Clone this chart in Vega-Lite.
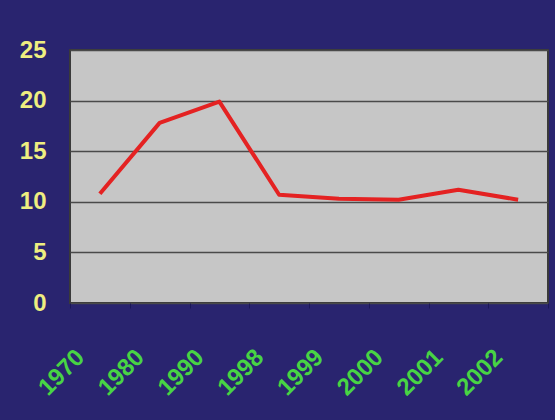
{
  "$schema": "https://vega.github.io/schema/vega-lite/v6.json",
  "autosize": "none",
  "width": 478,
  "height": 253,
  "padding": {"left": 70, "top": 50, "right": 7, "bottom": 117},
  "background": "#29246f",
  "config": {
    "view": {"fill": "#c6c6c6", "stroke": "#3a3a3a", "strokeWidth": 2},
    "font": "Liberation Sans"
  },
  "data": {
    "values": [
      {"year": "1970", "value": 10.8},
      {"year": "1980", "value": 17.8},
      {"year": "1990", "value": 19.9},
      {"year": "1998", "value": 10.7},
      {"year": "1999", "value": 10.3},
      {"year": "2000", "value": 10.2},
      {"year": "2001", "value": 11.2},
      {"year": "2002", "value": 10.2}
    ]
  },
  "mark": {"type": "line", "color": "#e42222", "strokeWidth": 4, "strokeJoin": "round"},
  "encoding": {
    "x": {
      "field": "year",
      "type": "ordinal",
      "scale": {"paddingInner": 0, "paddingOuter": 0},
      "axis": {
        "title": null,
        "labelAngle": -45,
        "labelColor": "#48d444",
        "labelFontSize": 24,
        "labelFontWeight": "bold",
        "labelPadding": 37,
        "labelOffset": -28,
        "domain": false,
        "ticks": true,
        "tickBand": "extent",
        "tickColor": "#1c1858",
        "tickSize": 5,
        "grid": false
      }
    },
    "y": {
      "field": "value",
      "type": "quantitative",
      "scale": {"domain": [0, 25], "nice": false},
      "axis": {
        "title": null,
        "values": [0, 5, 10, 15, 20, 25],
        "labelColor": "#eeee80",
        "labelFontSize": 24,
        "labelFontWeight": "bold",
        "labelPadding": 24,
        "domain": false,
        "ticks": false,
        "grid": true,
        "gridColor": "#4a4a4a",
        "gridWidth": 1.5
      }
    }
  }
}
